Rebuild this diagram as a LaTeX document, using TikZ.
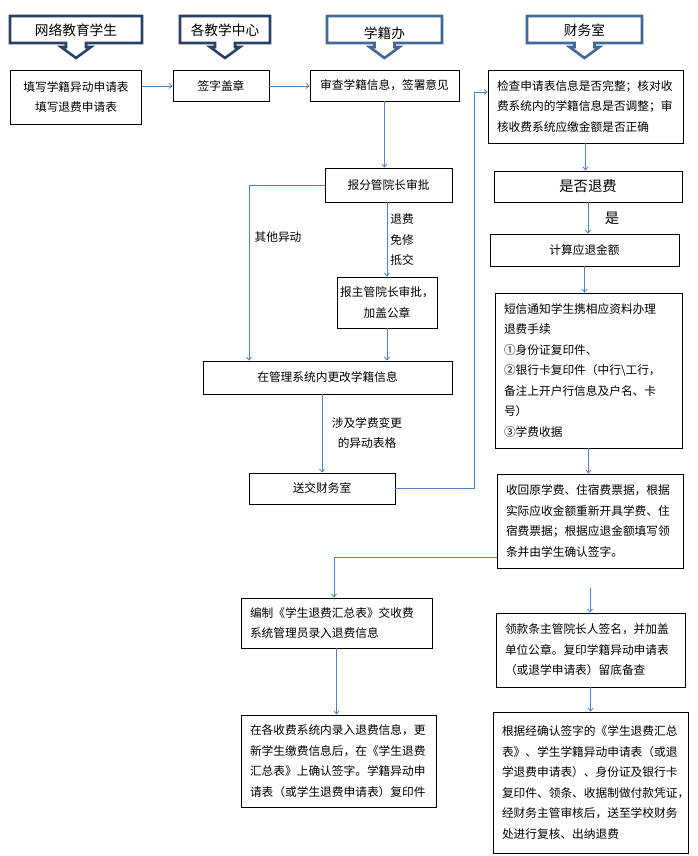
\documentclass[tikz,border=0pt]{standalone}
\usepackage{fontspec}
\setmainfont{Noto Sans CJK SC}
\usepackage{tikz}
\usetikzlibrary{arrows.meta,calc}
\definecolor{hdrdark}{RGB}{40,66,100}
\definecolor{hdrblue}{RGB}{66,104,152}
\definecolor{flowblue}{RGB}{79,129,189}

\begin{document}
\begin{tikzpicture}[x=1pt,y=-1pt,
  every node/.style={font=\fontsize{11.7pt}{20.5pt}\selectfont},
  box/.style={draw,line width=0.8pt,inner sep=2pt,align=center},
  tbox/.style={draw,line width=0.8pt,inner xsep=9pt,align=left},
  flow/.style={draw=flowblue,line width=0.8pt,-{Straight Barb[length=3pt,width=5pt]}},
  hdr/.style={line width=2.6pt,draw=#1,fill=white,line join=miter}]
  \useasboundingbox (0,0) rectangle (697,856);
  % column headers
  \foreach \x/\w/\c/\ty/\t [count=\i] in {76/132/hdrdark/30/网络教育学生, 225/90/hdrdark/30/各教学中心,
      384.5/115/hdrblue/33/学籍办, 584.5/115/hdrblue/30/财务室}{
    \draw[hdr=\c] (\x-\w/2,16) -- (\x+\w/2,16) -- (\x+\w/2,43) -- (\x+10,43) -- (\x+10,47) -- (\x+15,47)
      -- (\x,58) -- (\x-15,47) -- (\x-10,47) -- (\x-10,43) -- (\x-\w/2,43) -- cycle;
    \node[font=\fontsize{13.7pt}{16pt}\selectfont] (hdr\i) at (\x,\ty) {\t};
  }
  % left and middle columns
  \node[box,minimum width=131,minimum height=54] (stu) at (76,97) {填写学籍异动申请表\\填写退费申请表};
  \node[box,minimum width=96,minimum height=31] (sign) at (221,86) {签字盖章};
  \node[box,minimum width=149,minimum height=31] (review) at (384.5,85.5) {审查学籍信息，签署意见};
  \node[box,minimum width=127,minimum height=34] (fen) at (388.5,185) {报分管院长审批};
  \node[box,minimum width=100,minimum height=51] (zhu) at (387,302.5) {报主管院长审批，\\加盖公章};
  \node[box,minimum width=249,minimum height=33] (change) at (327.5,377.5) {在管理系统内更改学籍信息};
  \node[box,minimum width=146,minimum height=31] (send) at (322,488.5) {送交财务室};
  \node[tbox,text width=173,minimum height=50] (compile) at (336.5,623) {编制《学生退费汇总表》交收费\\系统管理员录入退费信息};
  \node[tbox,text width=177,minimum height=92] (enter) at (338.5,761) {在各收费系统内录入退费信息，更\\新学生缴费信息后，在《学生退费\\汇总表》上确认签字。学籍异动申\\请表（或学生退费申请表）复印件};
  % finance column
  \node[tbox,text width=177,minimum height=73] (check) at (585.5,106.5) {检查申请表信息是否完整；核对收\\费系统内的学籍信息是否调整；审\\核收费系统应缴金额是否正确};
  \node[box,minimum width=188,minimum height=31,font=\fontsize{14.3pt}{17pt}\selectfont] (refund) at (588,186.5) {是否退费};
  \node[box,minimum width=189,minimum height=32] (calc) at (584.5,250) {计算应退金额};
  \node[tbox,text width=169,minimum height=155] (sms) at (588.5,370.5) {短信通知学生携相应资料办理\\退费手续\\①身份证复印件、\\②银行卡复印件（中行\textbackslash 工行，\\备注上开户行信息及户名、卡\\号）\\③学费收据};
  \node[tbox,text width=168,minimum height=94] (recv) at (590,521) {收回原学费、住宿费票据，根据\\实际应收金额重新开具学费、住\\宿费票据；根据应退金额填写领\\条并由学生确认签字。};
  \node[tbox,text width=171,minimum height=74] (sign2) at (590.5,650) {领款条主管院长人签名，并加盖\\单位公章。复印学籍异动申请表\\（或退学申请表）留底备查};
  \node[tbox,text width=177,minimum height=141] (pay) at (590.5,782.5) {根据经确认签字的《学生退费汇总\\表》、学生学籍异动申请表（或退\\学退费申请表）、身份证及银行卡\\复印件、领条、收据制做付款凭证，\\经财务主管审核后，送至学校财务\\处进行复核、出纳退费};
  % labels
  \node (lblother) at (278,237) {其他异动};
  \node[align=left] (lblfee) at (402,240) {退费\\免修\\抵交};
  \node[align=center] (lblchg) at (367,433) {涉及学费变更\\的异动表格};
  \node[font=\fontsize{14.3pt}{17pt}\selectfont] (lblyes) at (612,218) {是};
  % connectors
  \coordinate (bendL) at (249,185);
  \coordinate (bendR) at (474,92);
  \coordinate (bendC) at (334,557);
  \draw[flow] (stu.east |- sign.west) -- (sign.west);
  \draw[flow] (sign.east) -- (sign.east -| review.west);
  \draw[flow] (review.south) -- (review.south |- fen.north);
  \draw[flow] (fen.west) -- (bendL) -- (bendL |- change.north);
  \draw[flow] (zhu.north |- fen.south) -- (zhu.north);
  \draw[flow] (zhu.south) -- (zhu.south |- change.north);
  \draw[flow] (change.south -| send.north) -- (send.north);
  \draw[flow] (send.east) -| (bendR) -- (bendR -| check.west);
  \draw[flow] (check.south) -- (check.south |- refund.north);
  \draw[flow] (refund.south) -- (refund.south |- calc.north);
  \draw[flow] (calc.south) -- (calc.south |- sms.north);
  \draw[flow] (sms.south) -- (sms.south |- recv.north);
  \draw[flow] (recv.west |- bendC) -- (bendC) -- (bendC |- compile.north);
  \draw[flow,shorten <=20pt] (recv.south) -- (recv.south |- sign2.north);
  \draw[flow] (compile.south) -- (compile.south |- enter.north);
  \draw[flow] (sign2.south) -- (sign2.south |- pay.north);
\end{tikzpicture}
\end{document}
